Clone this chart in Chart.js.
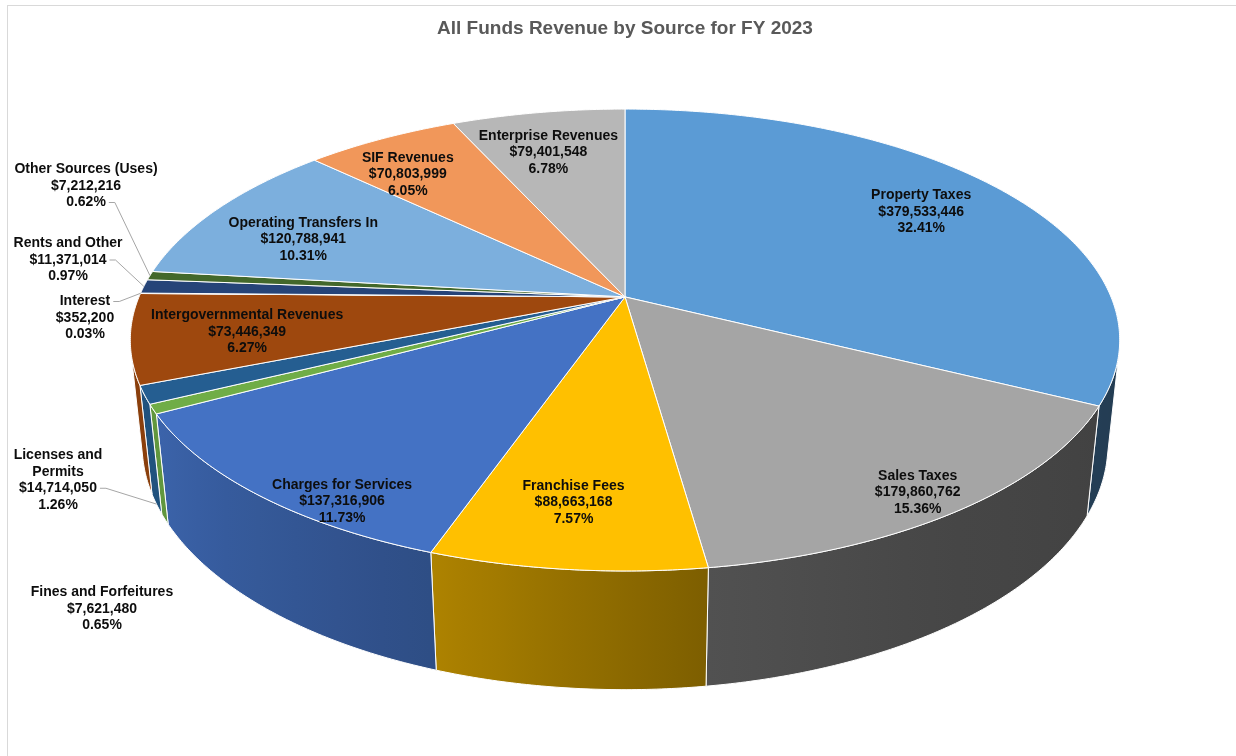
<!DOCTYPE html>
<html>
<head>
<meta charset="utf-8">
<script src="https://cdn.jsdelivr.net/npm/chart.js@4/dist/chart.umd.min.js"></script>
<style>
  html, body { margin: 0; padding: 0; background: #ffffff; }
  #wrap { width: 1236px; height: 756px; }
</style>
</head>
<body>
<div id="wrap"><canvas id="revenue" width="1236" height="756"></canvas></div>
<script>
// Revenue sources, clockwise from 12 o'clock
const categories = [
  'Property Taxes', 'Sales Taxes', 'Franchise Fees', 'Charges for Services',
  'Fines and Forfeitures', 'Licenses and Permits', 'Intergovernmental Revenues',
  'Interest', 'Rents and Other', 'Other Sources (Uses)', 'Operating Transfers In',
  'SIF Revenues', 'Enterprise Revenues'
];
const amounts = [
  379533446, 179860762, 88663168, 137316906,
  7621480, 14714050, 73446349,
  352200, 11371014, 7212216, 120788941,
  70803999, 79401548
];
const sliceColors = [
  '#5B9BD5', '#A5A5A5', '#FFC000', '#4472C4',
  '#70AD47', '#255E91', '#9E480E',
  '#636363', '#264478', '#43682B', '#7CAFDD',
  '#F1975A', '#B7B7B7'
];
const chartTitle = 'All Funds Revenue by Source for FY 2023';

// Where each data label sits: inside labels ride on the slice (r = fraction of radius),
// outside labels are placed in the left margin with a leader line to their slice.
const labelPlacement = [
  { r: 0.77, dx: 0, dy: -1 },
  { r: 0.89, dx: 1, dy: 9 },
  { r: 0.80, dx: -7, dy: -3 },
  { r: 0.80, dx: 1, dy: 51 },
  { x: 102, y: 609 },
  { x: 58, y: 480, wrap: 100, leader: 2, toBase: true },
  { r: 0.77, dx: 0, dy: 3 },
  { x: 85, y: 318, leader: 0 },
  { x: 68, y: 260, leader: 1 },
  { x: 86, y: 186, leader: 2 },
  { r: 0.785, dx: 3, dy: 13 },
  { r: 0.80, dx: -17, dy: 7 },
  { r: 0.85, dx: -1, dy: 16 }
];

// Camera for the tilted, extruded pie
const VIEW = { tiltDeg: 27.3, distance: 4.76, thickness: 0.245, widen: 2.472 };
// Side-wall brightness by rim angle (degrees clockwise from top)
const wallShade = [[95, 0.36], [117, 0.40], [150, 0.43], [172, 0.49], [199, 0.68], [241, 0.87], [265, 0.88]];

const FONT = '"Liberation Sans", Arial, Helvetica, sans-serif';
const LINE_H = 16.5;

const sinT = Math.sin(VIEW.tiltDeg * Math.PI / 180);
const cosT = Math.cos(VIEW.tiltDeg * Math.PI / 180);

function project(arc, thetaDeg, r, z) {
  const t = thetaDeg * Math.PI / 180;
  const X = r * Math.sin(t), Y = -r * Math.cos(t);
  const depth = VIEW.distance - Y * cosT - z * sinT;
  const k = arc.outerRadius * VIEW.widen * VIEW.distance / depth;
  return { x: arc.x + k * X, y: arc.y + k * (Y * sinT - z * cosT) };
}

function shadeAt(deg) {
  if (deg <= wallShade[0][0]) return wallShade[0][1];
  for (let i = 1; i < wallShade.length; i++) {
    if (deg <= wallShade[i][0]) {
      const [a, fa] = wallShade[i - 1], [b, fb] = wallShade[i];
      return fa + (fb - fa) * (deg - a) / (b - a);
    }
  }
  return wallShade[wallShade.length - 1][1];
}

function darken(hex, f) {
  const n = parseInt(hex.slice(1), 16);
  const r = Math.round(((n >> 16) & 255) * f);
  const g = Math.round(((n >> 8) & 255) * f);
  const b = Math.round((n & 255) * f);
  return `rgb(${r},${g},${b})`;
}

function rimPoints(arc, a, b, z) {
  const pts = [];
  const steps = Math.max(1, Math.ceil((b - a) / 0.5));
  for (let i = 0; i <= steps; i++) pts.push(project(arc, a + (b - a) * i / steps, 1, z));
  return pts;
}

function wrapText(ctx, text, maxW) {
  if (!maxW) return [text];
  const words = text.split(' ');
  const lines = [];
  let cur = '';
  for (const w of words) {
    const test = cur ? cur + ' ' + w : w;
    if (cur && ctx.measureText(test).width > maxW) { lines.push(cur); cur = w; }
    else cur = test;
  }
  if (cur) lines.push(cur);
  return lines;
}

const frame = {
  id: 'frame',
  beforeDraw(chart) {
    const ctx = chart.ctx;
    ctx.save();
    ctx.fillStyle = '#ffffff';
    ctx.fillRect(0, 0, chart.width, chart.height);
    ctx.strokeStyle = '#D9D9D9';
    ctx.lineWidth = 1;
    ctx.strokeRect(7.5, 5.5, chart.width + 10, chart.height + 10);
    ctx.restore();
  }
};

// Draws the pie as an extruded, tilted disc using the arc angles laid out by Chart.js
const solidPie = {
  id: 'solidPie',
  beforeDatasetsDraw(chart) {
    const ctx = chart.ctx;
    const meta = chart.getDatasetMeta(0);
    const arcs = meta.data;
    const colors = chart.data.datasets[0].backgroundColor;
    const H = -VIEW.thickness;
    const visLimit = Math.acos(-1 / (VIEW.distance * cosT)) * 180 / Math.PI;
    const visA = visLimit, visB = 360 - visLimit;

    const spans = arcs.map(arc => ({
      a: arc.startAngle * 180 / Math.PI + 90,
      b: arc.endAngle * 180 / Math.PI + 90
    }));

    ctx.save();
    ctx.lineJoin = 'round';
    ctx.lineWidth = 1;
    ctx.strokeStyle = '#ffffff';

    // outer walls facing the viewer
    arcs.forEach((arc, i) => {
      const a = Math.max(spans[i].a, visA), b = Math.min(spans[i].b, visB);
      if (b <= a) return;
      const top = rimPoints(arc, a, b, 0);
      const bottom = rimPoints(arc, a, b, H).reverse();
      ctx.beginPath();
      top.forEach((p, k) => k ? ctx.lineTo(p.x, p.y) : ctx.moveTo(p.x, p.y));
      bottom.forEach(p => ctx.lineTo(p.x, p.y));
      ctx.closePath();
      const x0 = top[0].x, x1 = top[top.length - 1].x;
      if (Math.abs(x1 - x0) < 0.5) {
        ctx.fillStyle = darken(colors[i], shadeAt((a + b) / 2));
      } else {
        const g = ctx.createLinearGradient(x0, 0, x1, 0);
        let last = 0;
        const n = 8;
        for (let k = 0; k <= n; k++) {
          const th = a + (b - a) * k / n;
          const px = project(arc, th, 1, 0).x;
          let t = (px - x0) / (x1 - x0);
          t = Math.min(1, Math.max(last, t));
          last = t;
          g.addColorStop(t, darken(colors[i], shadeAt(th)));
        }
        ctx.fillStyle = g;
      }
      ctx.fill();
      ctx.stroke();
    });

    // top faces
    arcs.forEach((arc, i) => {
      const apex = project(arc, 0, 0, 0);
      const rim = rimPoints(arc, spans[i].a, spans[i].b, 0);
      ctx.beginPath();
      ctx.moveTo(apex.x, apex.y);
      rim.forEach(p => ctx.lineTo(p.x, p.y));
      ctx.closePath();
      ctx.fillStyle = colors[i];
      ctx.fill();
      ctx.stroke();
    });

    // data labels
    const total = amounts.reduce((s, v) => s + v, 0);
    ctx.font = `bold 14px ${FONT}`;
    ctx.textAlign = 'center';
    ctx.textBaseline = 'middle';
    arcs.forEach((arc, i) => {
      const place = labelPlacement[i];
      const value = chart.data.datasets[0].data[i];
      const lines = wrapText(ctx, chart.data.labels[i], place.wrap).concat([
        '$' + value.toLocaleString('en-US'),
        (value / total * 100).toFixed(2) + '%'
      ]);
      const mid = (spans[i].a + spans[i].b) / 2;
      let cx, cy;
      if (place.r !== undefined) {
        const p = project(arc, mid, place.r, 0);
        cx = p.x + place.dx; cy = p.y + place.dy;
      } else {
        cx = place.x; cy = place.y;
      }
      const y0 = cy - (lines.length - 1) / 2 * LINE_H;
      if (place.leader !== undefined) {
        const ly = y0 + place.leader * LINE_H;
        const lx = cx + ctx.measureText(lines[place.leader]).width / 2 + 3;
        const end = project(arc, mid, 1, place.toBase ? H : 0);
        ctx.beginPath();
        ctx.moveTo(lx, ly);
        ctx.lineTo(lx + 6, ly);
        ctx.lineTo(end.x, end.y);
        ctx.strokeStyle = '#A6A6A6';
        ctx.stroke();
      }
      ctx.fillStyle = '#0D0D0D';
      lines.forEach((txt, k) => ctx.fillText(txt, cx, y0 + k * LINE_H));
    });

    ctx.restore();
    return false;
  }
};

new Chart(document.getElementById('revenue'), {
  type: 'pie',
  data: {
    labels: categories,
    datasets: [{ data: amounts, backgroundColor: sliceColors, borderColor: '#ffffff', borderWidth: 1 }]
  },
  options: {
    responsive: false,
    animation: false,
    layout: { padding: { left: 14, right: 0, top: 5, bottom: 262 } },
    plugins: {
      legend: { display: false },
      tooltip: { enabled: false },
      title: {
        display: true,
        text: chartTitle,
        color: '#595959',
        font: { family: FONT, size: 19, weight: 'bold' },
        padding: { top: 12, bottom: 60 }
      }
    }
  },
  plugins: [frame, solidPie]
});
</script>
</body>
</html>
